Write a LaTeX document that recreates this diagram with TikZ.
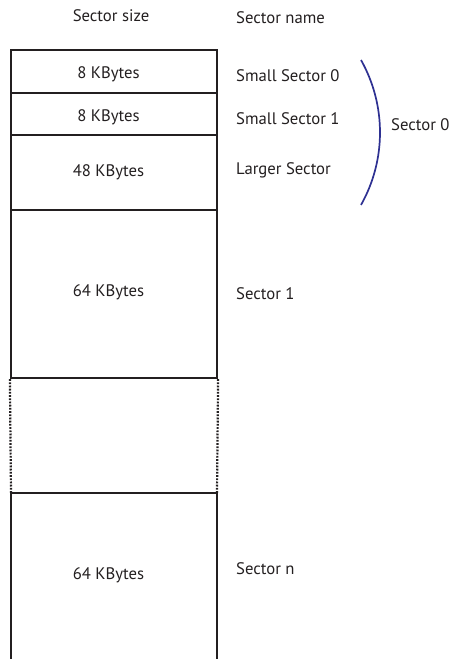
\documentclass[tikz,border=0pt]{standalone}
\usepackage{fontspec}
\setmainfont{PT Sans}
\definecolor{ink}{HTML}{231F20}
\definecolor{arcblue}{HTML}{2E3192}
\begin{document}
\begin{tikzpicture}[x=1pt,y=1pt,
  lbl/.style={font=\fontsize{16.7}{19}\selectfont, text=ink, inner sep=0pt, anchor=base},
  namelbl/.style={lbl, anchor=base west},
  sect/.style={draw=ink, line width=2.2pt, minimum width=206pt, inner sep=0pt},
  edge/.style={draw=ink, line width=2.2pt},
  dots/.style={draw=ink, line width=2.2pt, dash pattern=on 1.8pt off 1.4pt}]
\useasboundingbox (0,0) rectangle (449,-659);
\clip (0,0) rectangle (449,-659);
% column headings
\node[lbl] (hsize) at (111,-21.7) {Sector size};
\node[namelbl] (hname) at (236,-23.3) {Sector name};
% sector boxes
\node[sect, minimum height=43pt] (s0) at (114,-71.5) {};
\node[sect, minimum height=42pt] (s1) at (114,-114) {};
\node[sect, minimum height=75pt] (s2) at (114,-172.5) {};
\node[sect, minimum height=168pt] (s3) at (114,-294) {};
\coordinate (sntl) at (11,-493);
\coordinate (sntr) at (217,-493);
\coordinate (snbl) at (11,-662);
\coordinate (snbr) at (217,-662);
\draw[edge] (snbl) -- (sntl) -- (sntr) -- (snbr);
% dotted gap
\draw[dots] (s3.south west) -- (sntl);
\draw[dots] (s3.south east) -- (sntr);
% sizes
\node[lbl] (z0) at (108.5,-78.3) {8 KBytes};
\node[lbl] (z1) at (108.5,-121) {8 KBytes};
\node[lbl] (z2) at (108.5,-176) {48 KBytes};
\node[lbl] (z3) at (108.5,-296.7) {64 KBytes};
\node[lbl] (zn) at (108.5,-579.3) {64 KBytes};
% sector names
\node[namelbl] (n0) at (236,-81.7) {Small Sector 0};
\node[namelbl] (n1) at (236,-124.3) {Small Sector 1};
\node[namelbl] (n2) at (236,-174) {Larger Sector};
\node[namelbl] (n3) at (236,-299.3) {Sector 1};
\node[namelbl] (nn) at (236,-574) {Sector n};
% brace arc
\coordinate (atop) at (361,-60);
\draw[arcblue, line width=1.7pt] (atop) arc[start angle=29.37, end angle=-29.37, radius=147.8];
\node[namelbl] (g0) at (391,-130.7) {Sector 0};
\end{tikzpicture}
\end{document}
